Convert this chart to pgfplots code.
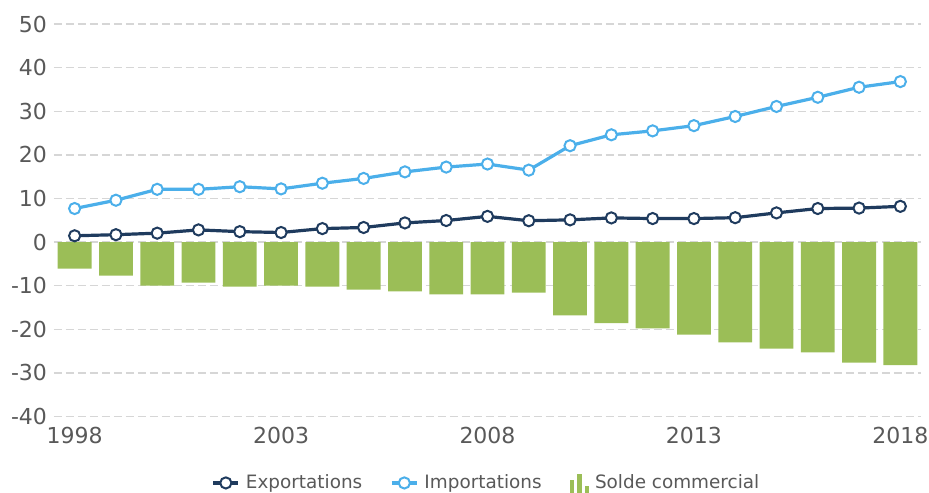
\documentclass[border=0pt]{standalone}
\usepackage{pgfplots}
\pgfplotsset{compat=1.18}
\usepackage{fontspec}
\setmainfont{DejaVu Sans}
\usetikzlibrary{calc}
\definecolor{expcol}{HTML}{1F3B5E}
\definecolor{impcol}{HTML}{4BAFEA}
\definecolor{barcol}{HTML}{9BBE57}
\definecolor{gridcol}{HTML}{D6D6D6}
\definecolor{txtcol}{HTML}{595959}

\begin{document}
\begin{tikzpicture}
\begin{axis}[name=ax, scale only axis, width=433.5pt, height=196.3pt,
  xmin=1997.5, xmax=2018.5, ymin=-40, ymax=50,
  xtick={1998,2003,2008,2013,2018}, xticklabels={1998,2003,2008,2013,2018},
  ytick={-40,-30,-20,-10,0,10,20,30,40,50},
  yticklabels={-40,-30,-20,-10,0,10,20,30,40,50},
  axis line style={draw=none}, major tick length=0pt,
  ymajorgrids, grid style={gridcol, dash pattern=on 4pt off 2pt, line width=0.7pt},
  tick label style={font=\fontsize{11}{13}\selectfont, text=txtcol},
  xticklabel style={yshift=-2pt},
  legend style={at={(0.5,-0.169)}, anchor=center, draw=none, legend columns=3,
    font=\fontsize{9.2}{11}\selectfont, text=txtcol,
    /tikz/every even column/.append style={column sep=12pt},
    /tikz/every odd column/.append style={column sep=1pt}},
  legend cell align=left,
  legend image code/.code={\draw[#1, mark repeat=2, mark phase=2] plot coordinates {(0pt,0pt) (6.25pt,0pt) (12.5pt,0pt)};},
]
\addplot[expcol, line width=1.6pt, mark=*, mark size=2.8pt,
  mark options={fill=white, draw=expcol, line width=1pt}] coordinates {
  (1998,1.45) (1999,1.7) (2000,2.05) (2001,2.8) (2002,2.4) (2003,2.2)
  (2004,3.1) (2005,3.35) (2006,4.4) (2007,4.95) (2008,5.9) (2009,4.9)
  (2010,5.1) (2011,5.55) (2012,5.4) (2013,5.4) (2014,5.6) (2015,6.7)
  (2016,7.7) (2017,7.8) (2018,8.2)
};
\addlegendentry{Exportations}
\addplot[impcol, line width=1.6pt, mark=*, mark size=2.8pt,
  mark options={fill=white, draw=impcol, line width=1pt}] coordinates {
  (1998,7.7) (1999,9.6) (2000,12.1) (2001,12.1) (2002,12.7) (2003,12.2)
  (2004,13.5) (2005,14.6) (2006,16.1) (2007,17.2) (2008,17.9) (2009,16.5)
  (2010,22.1) (2011,24.6) (2012,25.5) (2013,26.7) (2014,28.8) (2015,31.1)
  (2016,33.2) (2017,35.5) (2018,36.8)
};
\addlegendentry{Importations}
\addplot[ybar, bar width=0.82, fill=barcol, draw=none,
  legend image code/.code={
    \fill[barcol] (0pt,-4.8pt) rectangle (2.2pt,1.5pt);
    \fill[barcol] (3.75pt,-4.8pt) rectangle (5.95pt,4.3pt);
    \fill[barcol] (7.5pt,-4.8pt) rectangle (9.7pt,-1.5pt);}] coordinates {
  (1998,-6.1) (1999,-7.7) (2000,-10.0) (2001,-9.3) (2002,-10.2) (2003,-10.0)
  (2004,-10.2) (2005,-10.9) (2006,-11.3) (2007,-12.0) (2008,-12.0) (2009,-11.6)
  (2010,-16.8) (2011,-18.6) (2012,-19.8) (2013,-21.2) (2014,-23.0) (2015,-24.4)
  (2016,-25.3) (2017,-27.6) (2018,-28.2)
};
\addlegendentry{Solde commercial}
\end{axis}
\pgfresetboundingbox
\path ($(ax.south west)+(-27pt,-38.15pt)$) rectangle ($(ax.north east)+(4pt,12pt)$);
\end{tikzpicture}
\end{document}
